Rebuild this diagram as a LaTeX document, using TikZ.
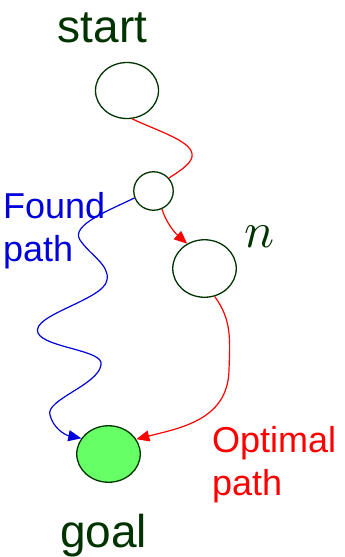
\documentclass[tikz,border=0pt]{standalone}
\usepackage{fontspec}
\usepackage{unicode-math}
\setmainfont{Liberation Sans}
\setmathfont{Latin Modern Math}
\usepackage{tikz}
\usetikzlibrary{arrows.meta,shapes.geometric}
\definecolor{darkgreen}{RGB}{0,51,0}
\definecolor{goalgreen}{RGB}{102,255,102}
\definecolor{pathblue}{RGB}{0,0,220}

\begin{document}
\begin{tikzpicture}[x=1pt, y=-1pt,
  state/.style={ellipse, draw=darkgreen, line width=1.3pt, inner sep=0pt},
  biglabel/.style={anchor=base, inner sep=0pt, text=darkgreen, font=\fontsize{46}{55}\selectfont},
  pathlabel/.style={anchor=north west, align=left, inner sep=0pt, font=\fontsize{36}{43}\selectfont},
  arrow/.style={-{Triangle[length=13pt,width=11pt]}, line width=1.2pt}
]
  \useasboundingbox (0,0) rectangle (345,557);

  % nodes of the search tree
  \node[state, minimum width=63pt, minimum height=56pt] (start) at (127,90.5) {};
  \node[state, minimum width=39.5pt, minimum height=38.5pt] (mid) at (153.5,191) {};
  \node[state, minimum width=63.5pt, minimum height=57.5pt] (n) at (204.5,268.5) {};
  \node[state, fill=goalgreen, minimum width=63.5pt, minimum height=56.5pt] (goal) at (108.5,454) {};

  % labels
  \node[biglabel] (startlbl) at (102.5,42.5) {start};
  \node[biglabel] (goallbl) at (103.5,547) {goal};
  \node[anchor=base, inner sep=0pt, text=darkgreen, font=\fontsize{50}{60}\selectfont] (nlbl) at (259,247) {$n$};
  \node[pathlabel, text=pathblue] (found) at (3,192) {Found\\path};
  \node[pathlabel, text=red] (optimal) at (212,426) {Optimal\\path};

  % optimal path (red)
  \draw[red, line width=1.2pt] (start.-80) .. controls (160,132) and (195,142) .. (192,157)
    .. controls (190,165) and (178,172) .. (mid.40);
  \draw[arrow, red] (mid.-65) .. controls (166,222) and (174,232) .. (n.125);
  \draw[arrow, red] (n.-70) .. controls (232,320) and (230,340) .. (229,370)
    .. controls (228,420) and (180,428) .. (goal.28);

  % found path (blue)
  \draw[arrow, pathblue] (mid.200) .. controls (110,210) and (70,225) .. (80,240)
    .. controls (90,255) and (110,265) .. (107,280)
    .. controls (104,300) and (30,315) .. (38,333)
    .. controls (45,348) and (105,350) .. (101,365)
    .. controls (98,385) and (45,400) .. (50,415)
    .. controls (53,428) and (65,435) .. (goal.150);
\end{tikzpicture}
\end{document}
